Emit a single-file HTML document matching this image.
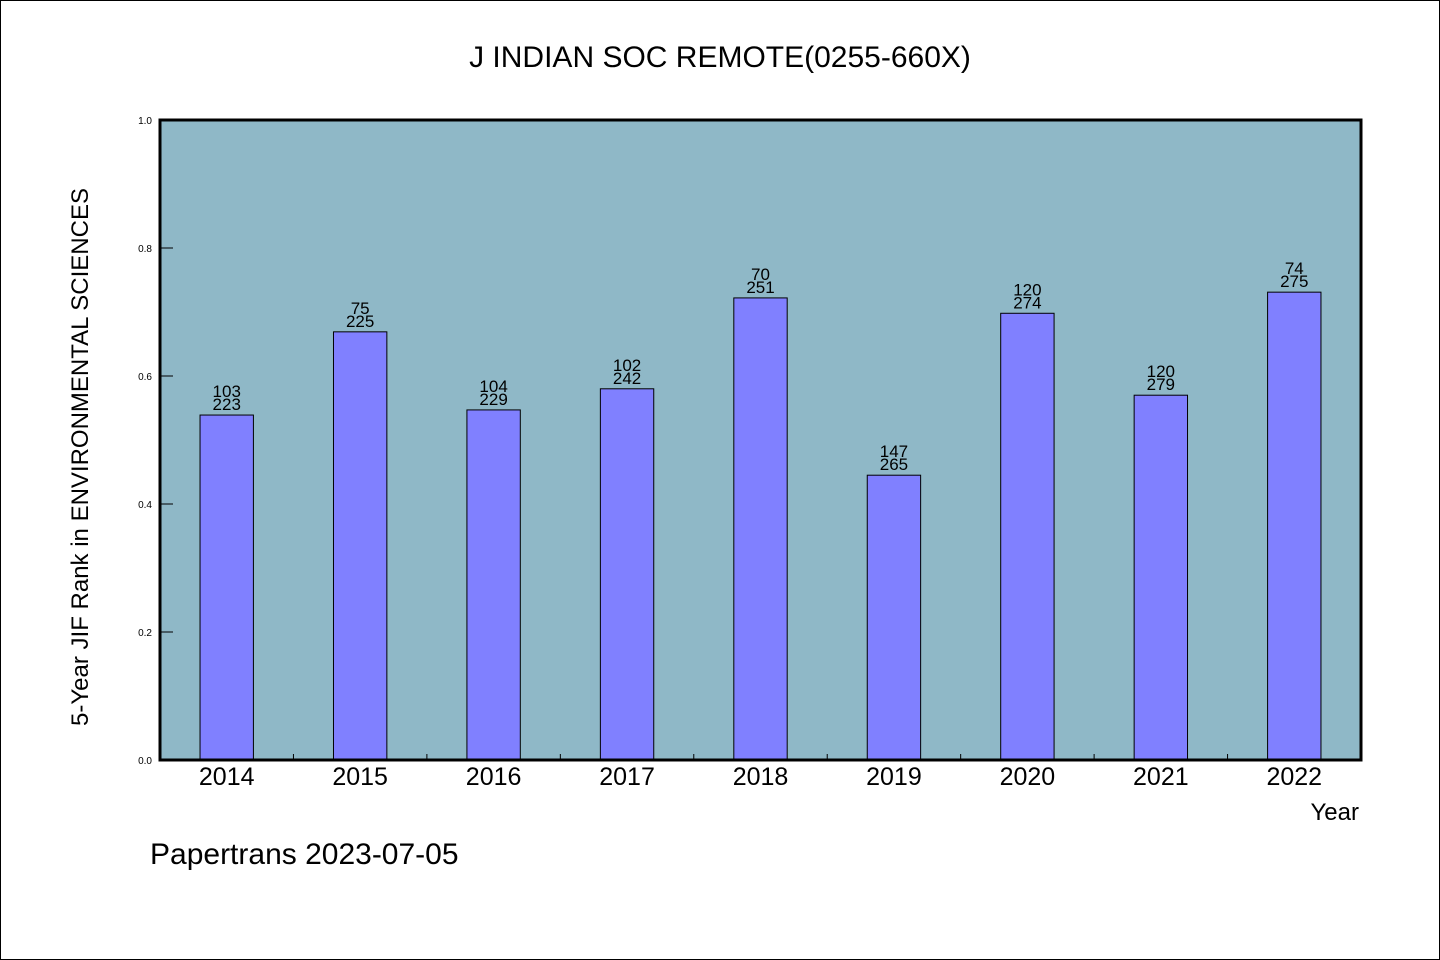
<!DOCTYPE html>
<html><head><meta charset="utf-8"><style>
html,body{margin:0;padding:0;background:#fff}
svg{display:block}
text{font-family:"WenQuanYi Zen Hei","Liberation Sans",sans-serif;fill:#000}
</style></head><body>
<svg width="1440" height="960" viewBox="0 0 1440 960">
<rect x="0.5" y="0.5" width="1439" height="959" fill="#fff" stroke="#000"/>
<text x="720" y="67" font-size="30" text-anchor="middle">J INDIAN SOC REMOTE(0255-660X)</text>
<rect x="160" y="120" width="1201" height="640" fill="#8fb8c7"/>
<g id="bars"></g>
<g id="axes"></g>
<rect x="160" y="120" width="1201" height="640" fill="none" stroke="#000" stroke-width="3"/>
<text transform="translate(88,457) rotate(-90)" font-size="24" text-anchor="middle">5-Year JIF Rank in ENVIRONMENTAL SCIENCES</text>
<text x="1359" y="820" font-size="24" text-anchor="end">Year</text>
<text x="150" y="864" font-size="30">Papertrans 2023-07-05</text>
</svg>
<script>
const years=["2014","2015","2016","2017","2018","2019","2020","2021","2022"];
const values=[0.539,0.669,0.547,0.580,0.722,0.445,0.698,0.570,0.731];
const ranks=["103","75","104","102","70","147","120","120","74"];
const totals=["223","225","229","242","251","265","274","279","275"];
const yTicks=[0,0.2,0.4,0.6,0.8,1.0];
const yTickLabels=["0.0","0.2","0.4","0.6","0.8","1.0"];
const NS="http://www.w3.org/2000/svg";
const X0=160,X1=1361,Y0=760,Y1=120;
const band=(X1-X0)/years.length;
const xc=i=>X0+band*(i+0.5);
const y=v=>Y0-(v)*(Y0-Y1);
function mk(tag,attrs,parent){const e=document.createElementNS(NS,tag);for(const k in attrs)e.setAttribute(k,attrs[k]);parent.appendChild(e);return e;}
const bars=document.getElementById('bars'),axes=document.getElementById('axes');
years.forEach((yr,i)=>{
 const w=band*0.4;
 const r=mk('rect',{x:xc(i)-w/2,y:y(values[i]),width:w,height:Y0-y(values[i]),fill:'#8080ff',stroke:'#000','stroke-width':1},bars);
 
 
 const t1=mk('text',{x:xc(i),y:y(values[i])-18,'font-size':17,'text-anchor':'middle'},bars);t1.textContent=ranks[i];
 
 
 const t2=mk('text',{x:xc(i),y:y(values[i])-5,'font-size':17,'text-anchor':'middle'},bars);t2.textContent=totals[i];
 
 
 const xl=mk('text',{x:xc(i),y:785,'font-size':25,'text-anchor':'middle'},axes);xl.textContent=yr;
 
 
 if(i>0){const tk=mk('line',{x1:X0+band*i,x2:X0+band*i,y1:Y0,y2:Y0-6,stroke:'#000'},axes);
 
 }
});
yTicks.forEach((v,i)=>{
 const tk=mk('line',{x1:X0,x2:X0+13,y1:y(v),y2:y(v),stroke:'#000'},axes);
 
 
 const tl=mk('text',{x:152,y:y(v)+4,'font-size':10,'text-anchor':'end'},axes);tl.textContent=yTickLabels[i];
 
 
});
</script>
</body></html>
